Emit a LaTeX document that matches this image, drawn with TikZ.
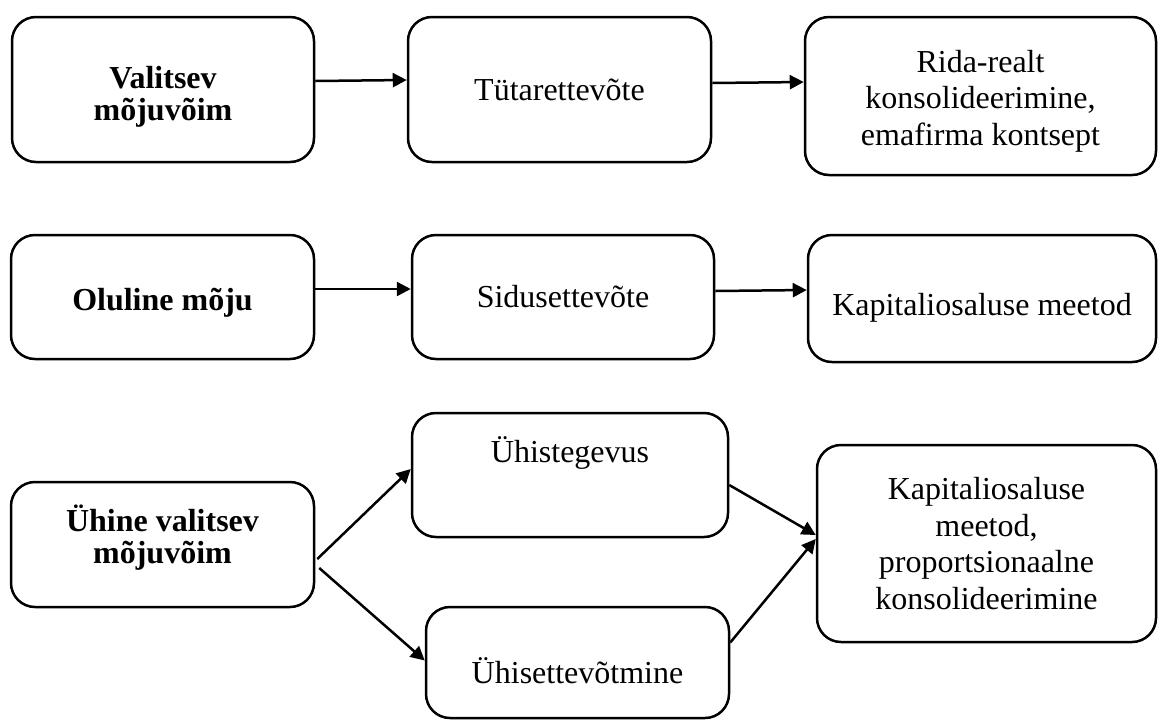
\documentclass[tikz,border=0pt]{standalone}
\usepackage{fontspec}
\setmainfont{Liberation Serif}
\usetikzlibrary{arrows.meta,positioning}

\begin{document}
\begin{tikzpicture}[x=1pt, y=-1pt, >={Triangle[length=14pt,width=14pt]},
  font=\fontsize{32}{36.5}\selectfont,
  bx/.style={draw, rounded corners=24pt, line width=2.5pt, align=center, inner sep=0pt},
  hd/.style={bx, font=\fontsize{32}{31.5}\selectfont\bfseries},
  ar/.style={->, line width=2.5pt}]
  \useasboundingbox (0,0) rectangle (1158,724);
  % row 1
  \node[hd, minimum width=302pt, minimum height=145pt, text height=68pt, text depth=7pt] (v1) at (163,89.5) {Valitsev\\ mõjuvõim};
  \node[bx, minimum width=303pt, minimum height=145pt] (t1) at (559.5,89.5) {Tütarettevõte};
  \node[bx, minimum width=351pt, minimum height=158pt, text height=105pt, text depth=7pt] (k1) at (980.5,96) {Rida-realt\\ konsolideerimine,\\ emafirma kontsept};
  % row 2
  \node[hd, minimum width=303pt, minimum height=124pt, text height=33pt, text depth=7pt] (v2) at (162.5,297) {Oluline mõju};
  \node[bx, minimum width=302pt, minimum height=124pt] (t2) at (563,297) {Sidusettevõte};
  \node[bx, minimum width=348pt, minimum height=127pt, text height=40pt, text depth=7pt] (k2) at (982,298.5) {Kapitaliosaluse meetod};
  % row 3
  \node[hd, minimum width=303pt, minimum height=125pt, text height=44pt, text depth=7pt] (v3) at (162.5,544.5) {Ühine valitsev\\ mõjuvõim};
  \node[bx, minimum width=316pt, minimum height=124pt, text height=22pt, text depth=48pt] (t3) at (570,475) {Ühistegevus};
  \node[bx, minimum width=303pt, minimum height=111pt, text height=48pt, text depth=6pt] (t4) at (577.5,662.5) {Ühisettevõtmine};
  \node[bx, minimum width=339pt, minimum height=197pt] (k3) at (986.5,543.5) {Kapitaliosaluse\\ meetod,\\ proportsionaalne\\ konsolideerimine};

  \draw[ar] ([yshift=8.5pt]v1.east) -- ([yshift=9.5pt]t1.west);
  \draw[ar] ([yshift=6.5pt]t1.east) -- ([yshift=14pt]k1.west);
  \draw[ar] ([yshift=8pt]v2.east) -- ([yshift=8pt]t2.west);
  \draw[ar] ([yshift=6pt]t2.east) -- ([yshift=8.5pt]k2.west);
  \draw[ar] ([xshift=2pt,yshift=-14.5pt]v3.east) -- ([yshift=6pt]t3.west);
  \draw[ar] ([xshift=4pt,yshift=-23.5pt]v3.east) -- ([yshift=2pt]t4.west);
  \draw[ar] ([yshift=-10pt]t3.east) -- ([yshift=8.5pt]k3.west);
  \draw[ar] ([yshift=20pt]t4.east) -- ([yshift=4.5pt]k3.west);
\end{tikzpicture}
\end{document}
